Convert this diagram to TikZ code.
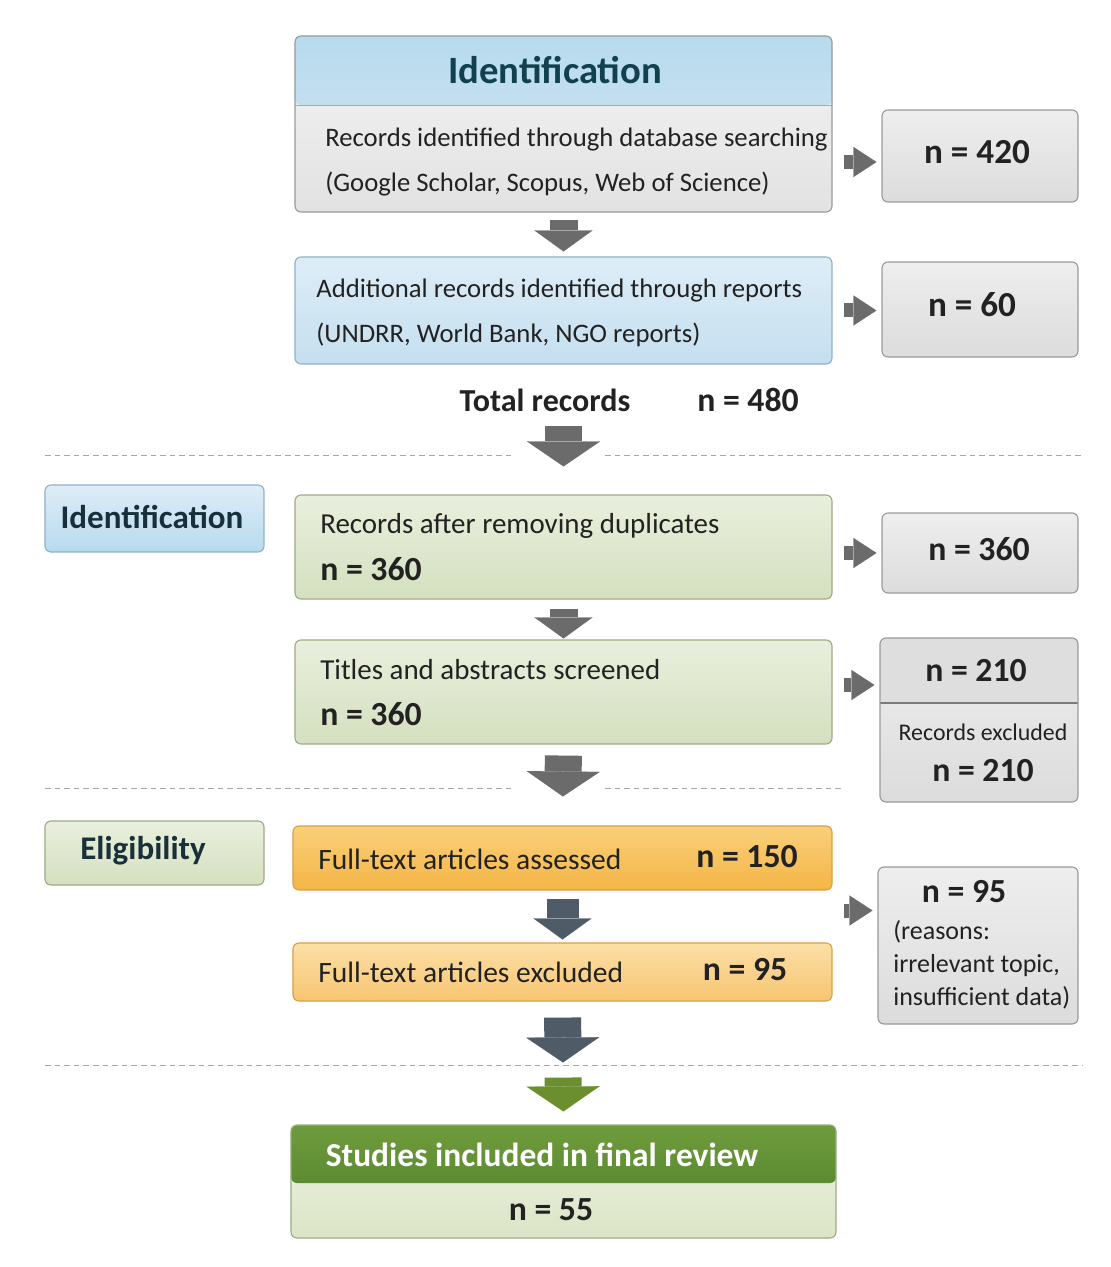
\documentclass[tikz,border=0pt]{standalone}
\usepackage{fontspec}
\setmainfont{Carlito}
\usetikzlibrary{arrows.meta,calc,positioning}
\definecolor{hdrblueA}{HTML}{B8DAEE}
\definecolor{hdrblueB}{HTML}{D3E8F4}
\definecolor{idtext}{HTML}{11404F}
\definecolor{lbltext}{HTML}{18303A}
\definecolor{txtdark}{HTML}{222222}
\definecolor{bodyA}{HTML}{F4F4F4}
\definecolor{bodyB}{HTML}{E2E2E2}
\definecolor{edgegrey}{HTML}{979A9D}
\definecolor{pblueA}{HTML}{DDEDF7}
\definecolor{pblueB}{HTML}{C5DFEF}
\definecolor{edgeblue}{HTML}{8FB2C8}
\definecolor{greyA}{HTML}{EEEEEE}
\definecolor{greyB}{HTML}{DCDCDC}
\definecolor{greyhd}{HTML}{DEDEDE}
\definecolor{pgreenA}{HTML}{E9EFDD}
\definecolor{pgreenB}{HTML}{D4E0BF}
\definecolor{edgegreen}{HTML}{9DAC87}
\definecolor{orangeA}{HTML}{FAD07A}
\definecolor{orangeB}{HTML}{F4B546}
\definecolor{orlightA}{HTML}{FCDFA6}
\definecolor{orlightB}{HTML}{F7C572}
\definecolor{edgeorange}{HTML}{D8A148}
\definecolor{arrgrey}{HTML}{6B6B6B}
\definecolor{arrslate}{HTML}{4F5B66}
\definecolor{arrgreen}{HTML}{6B8F2E}
\definecolor{finhdA}{HTML}{6E9C3C}
\definecolor{finhdB}{HTML}{4C7A27}
\definecolor{finbodyA}{HTML}{F0F4E6}
\definecolor{finbodyB}{HTML}{DAE4C5}
\tikzset{
  blk/.style={rounded corners=1.5mm, line width=0.8pt, inner sep=0pt},
  idbox/.style={blk, draw=edgegrey, top color=bodyA, bottom color=bodyB,
    path picture={\shade[top color=hdrblueA, bottom color=hdrblueB]
      (path picture bounding box.north west) rectangle
      ([yshift=-17.25mm]path picture bounding box.north east);
      \draw[draw=edgeblue, line width=0.6pt]
      ([yshift=-17.25mm]path picture bounding box.north west) --
      ([yshift=-17.25mm]path picture bounding box.north east);}},
  bluebox/.style={blk, draw=edgeblue, top color=pblueA, bottom color=pblueB},
  greybox/.style={blk, draw=edgegrey, top color=greyA, bottom color=greyB},
  exclbox/.style={blk, draw=edgegrey, top color=greyA, bottom color=greyB,
    path picture={\fill[greyhd]
      (path picture bounding box.north west) rectangle
      ([yshift=-16.25mm]path picture bounding box.north east);
      \draw[draw=edgegrey!80!black, line width=0.8pt]
      ([yshift=-16.25mm]path picture bounding box.north west) --
      ([yshift=-16.25mm]path picture bounding box.north east);}},
  greenbox/.style={blk, draw=edgegreen, top color=pgreenA, bottom color=pgreenB},
  orangebox/.style={blk, draw=edgeorange, top color=orangeA, bottom color=orangeB},
  orlightbox/.style={blk, draw=edgeorange, top color=orlightA, bottom color=orlightB},
  lblblue/.style={blk, draw=edgeblue, top color=pblueA, bottom color=hdrblueA},
  lblgreen/.style={blk, draw=edgegreen, top color=pgreenA, bottom color=pgreenB},
  finbox/.style={blk, draw=edgegreen, top color=finbodyA, bottom color=finbodyB,
    path picture={\shade[top color=finhdA, bottom color=finhdB]
      (path picture bounding box.north west) rectangle
      ([yshift=-14.5mm]path picture bounding box.north east);}},
  txt/.style={font=\fontsize{19pt}{32pt}\selectfont, text=txtdark, align=left, inner sep=0pt},
  txtl/.style={txt, font=\fontsize{20.6pt}{32pt}\selectfont},
  bold/.style={font=\fontsize{24pt}{28pt}\selectfont\bfseries, text=txtdark, inner sep=0pt},
  hdr/.style={font=\fontsize{27.5pt}{32pt}\selectfont\bfseries, text=idtext, inner sep=0pt},
  lbl/.style={font=\fontsize{23.5pt}{28pt}\selectfont\bfseries, text=lbltext, inner sep=0pt},
  sep/.style={draw=black!35, line width=0.6pt, dash pattern=on 1.4mm off 1mm},
  sarr/.style={draw=arrgrey, line width=3.5mm, -{Triangle[length=5.75mm,width=7.5mm,line width=0.1pt]}},
  darr/.style={draw=#1, line width=7mm, -{Triangle[length=5.25mm,width=14.5mm,line width=0.1pt]}},
  barr/.style={draw=#1, line width=9.25mm, -{Triangle[length=6.25mm,width=18.25mm,line width=0.1pt]}}
}
\begin{document}
\begin{tikzpicture}[x=0.25mm,y=-0.25mm]
\useasboundingbox (0,0) rectangle (1110,1267);
\fill[white] (0,0) rectangle (1110,1267);

\node[idbox, minimum width=134.25mm, minimum height=44mm] (ident) at (563.5,124) {};
\node[hdr] (identhd) at (555,70) {Identification};
\node[txt, anchor=west] (identtx) at (325,162) {Records identified through database searching\\(Google Scholar, Scopus, Web of Science)};
\node[greybox, minimum width=49mm, minimum height=23mm] (n420) at (980,156) {};
\node[bold, font=\fontsize{25pt}{28pt}\selectfont\bfseries] (n420tx) at (977,152) {n = 420};

\node[bluebox, minimum width=134.25mm, minimum height=26.75mm] (addl) at (563.5,310.5) {};
\node[txt, anchor=west] (addltx) at (316,313) {Additional records identified through reports\\(UNDRR, World Bank, NGO reports)};
\node[greybox, minimum width=49mm, minimum height=23.75mm] (n60) at (980,309.5) {};
\node[bold, font=\fontsize{25pt}{28pt}\selectfont\bfseries] (n60tx) at (972,305) {n = 60};

\node[bold, font=\fontsize{22.8pt}{28pt}\selectfont\bfseries] (total) at (545,400) {Total records};
\node[bold] (totaln) at (748,400) {n = 480};

\node[lblblue, minimum width=54.75mm, minimum height=16.75mm] (lblid) at (154.5,518.5) {};
\node[lbl] (lblidtx) at (152,517) {Identification};

\node[greenbox, minimum width=134.25mm, minimum height=26mm] (dup) at (563.5,547) {};
\node[txtl, anchor=west] (duptx) at (320,526) {Records after removing duplicates};
\node[bold, anchor=west] (dupn) at (320,569) {n = 360};
\node[greybox, minimum width=49mm, minimum height=20mm] (n360) at (980,553) {};
\node[bold] (n360tx) at (979,549) {n = 360};

\node[greenbox, minimum width=134.25mm, minimum height=26mm] (screen) at (563.5,692) {};
\node[txtl, anchor=west] (screentx) at (320,670) {Titles and abstracts screened};
\node[bold, anchor=west] (screenn) at (320,714) {n = 360};
\node[exclbox, minimum width=49.5mm, minimum height=41mm] (excl) at (979,720) {};
\node[bold] (excltop) at (976,671) {n = 210};
\node[txt, font=\fontsize{17pt}{20pt}\selectfont] (excltx) at (983,732) {Records excluded};
\node[bold] (excln) at (983,771) {n = 210};

\node[lblgreen, minimum width=54.75mm, minimum height=16mm] (lblel) at (154.5,853) {};
\node[lbl] (lbleltx) at (143,851) {Eligibility};

\node[orangebox, minimum width=134.75mm, minimum height=16mm] (full) at (562.5,858) {};
\node[txtl, font=\fontsize{21pt}{26pt}\selectfont, anchor=west] (fulltx) at (318,859) {Full-text articles assessed};
\node[bold] (fulln) at (747,857) {n = 150};

\node[orlightbox, minimum width=134.75mm, minimum height=14.5mm] (fullx) at (562.5,972) {};
\node[txtl, font=\fontsize{21pt}{26pt}\selectfont, anchor=west] (fullxtx) at (318,972) {Full-text articles excluded};
\node[bold] (fullxn) at (745,970) {n = 95};

\node[greybox, minimum width=50mm, minimum height=39.25mm] (n95) at (978,945.5) {};
\node[bold] (n95tx) at (964,892) {n = 95};
\node[txt, anchor=north west, font=\fontsize{18.5pt}{23.5pt}\selectfont] (n95rs) at (893,920) {(reasons:\\irrelevant topic,\\insufficient data)};

\node[finbox, minimum width=136.25mm, minimum height=28.25mm] (final) at (563.5,1181.5) {};
\node[bold, text=white, font=\fontsize{23.8pt}{28pt}\selectfont\bfseries] (finalhd) at (542,1155) {Studies included in final review};
\node[bold] (finaln) at (551,1210) {n = 55};

\draw[sep] (45,455) -- (515,455);
\draw[sep] (605,455) -- (1083,455);
\draw[sep] (45,788) -- (515,788);
\draw[sep] (605,788) -- (843,788);
\draw[sep] (45,1065) -- (1083,1065);

\draw[darr=arrgrey, shorten <=1.75mm, shorten >=1.25mm] (ident.south) -- (addl.north);
\draw[barr=arrgrey, shorten <=15.25mm, shorten >=7mm] (addl.south) -- (dup.north);
\draw[darr=arrgrey, shorten <=2.25mm, shorten >=0.25mm] (dup.south) -- (screen.north);
\draw[barr=arrgrey, shorten <=2.75mm, shorten >=7.25mm] (screen.south) -- (full.north);
\draw[darr=arrslate, line width=8mm, shorten <=2mm, shorten >=0.75mm] (full.south) -- (fullx.north);
\draw[barr=arrslate, shorten <=4mm, shorten >=15.5mm] (fullx.south) -- (final.north);
\draw[barr=arrgreen, shorten <=19mm, shorten >=3.25mm] (fullx.south) -- (final.north);

\draw[sarr, shorten <=2.75mm, shorten >=1.25mm] ([yshift=-1.5mm]n420.west -| ident.east) -- ([yshift=-1.5mm]n420.west);
\draw[sarr, shorten <=2.75mm, shorten >=1.25mm] (addl.east) -- (addl.east -| n60.west);
\draw[sarr, shorten <=2.75mm, shorten >=1.25mm] (n360.west -| dup.east) -- (n360.west);
\draw[sarr, shorten <=2.75mm, shorten >=1.25mm] ([yshift=1.75mm]screen.east) -- ([yshift=1.75mm]screen.east -| excl.west);
\coordinate (gap) at ($(full.south east)!0.5!(fullx.north east)$);
\draw[sarr, shorten <=2.75mm, shorten >=1.25mm] ([yshift=1.5mm]gap) -- ([yshift=1.5mm]gap -| n95.west);
\end{tikzpicture}
\end{document}
